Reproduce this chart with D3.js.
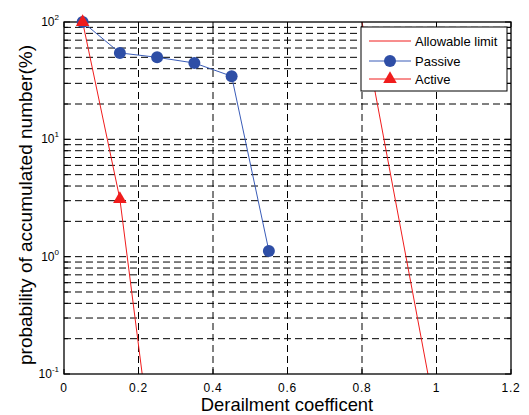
<!DOCTYPE html>
<html><head><meta charset="utf-8">
<script src="https://cdn.jsdelivr.net/npm/d3@7/dist/d3.min.js"></script>
<style>
body{margin:0;background:#fff;}
text{font-family:"Liberation Sans",Arial,Helvetica,sans-serif;}
</style></head>
<body><svg id="c" width="529" height="415"></svg>
<script>
const passiveX = [0.05, 0.15, 0.25, 0.35, 0.45, 0.55];
const passiveY = [100, 54.5, 50, 44.7, 34.5, 1.12];
const activeX = [0.05, 0.15, 0.25];
const activeY = [100, 3.1, 0.01];
const limitX = [0.8, 0.977];
const limitY = [100, 0.1];
const xTicks = [0, 0.2, 0.4, 0.6, 0.8, 1.0, 1.2];
const xTickLabels = ["0", "0.2", "0.4", "0.6", "0.8", "1", "1.2"];
const yTicks = [0.1, 1, 10, 100];
const yExponents = ["-1", "0", "1", "2"];
const legendLabels = ["Allowable limit", "Passive", "Active"];

const W = 529, H = 415;
const m = {l: 64, r: 18, t: 22, b: 41};
const svg = d3.select("#c");
const x = d3.scaleLinear().domain([0, 1.2]).range([m.l, W - m.r]);
const y = d3.scaleLog().domain([0.1, 100]).range([H - m.b, m.t]);
const x0 = m.l, x1 = W - m.r, y0 = H - m.b, y1 = m.t;

svg.append("rect").attr("x", x0).attr("y", y1).attr("width", x1 - x0).attr("height", y0 - y1).attr("fill", "#fff");

// grid
const g = svg.append("g");
const minor = [];
for (let e = -1; e < 2; e++) for (let k = 1; k <= 9; k++) minor.push(k * Math.pow(10, e));
minor.push(100);
minor.filter(v => v > 0.1 && v < 100).forEach(v => {
  g.append("line").attr("x1", x0).attr("x2", x1).attr("y1", y(v)).attr("y2", y(v))
   .attr("stroke", "#000").attr("stroke-width", 1).attr("stroke-dasharray", "7,4");
});
xTicks.filter(v => v > 0 && v < 1.2).forEach(v => {
  g.append("line").attr("x1", x(v)).attr("x2", x(v)).attr("y1", y0).attr("y2", y1)
   .attr("stroke", "#000").attr("stroke-width", 1).attr("stroke-dasharray", "7,4");
});

// clip
svg.append("clipPath").attr("id", "clip").append("rect")
  .attr("x", x0).attr("y", y1).attr("width", x1 - x0).attr("height", y0 - y1);
const plot = svg.append("g").attr("clip-path", "url(#clip)");
const line = d3.line().x(d => x(d[0])).y(d => y(d[1]));

const limitData = limitX.map((v, i) => [v, limitY[i]]);
const passData = passiveX.map((v, i) => [v, passiveY[i]]);
const actData = activeX.map((v, i) => [v, activeY[i]]);

const red = "#f01c1c", blue = "#2e4ea6", blueLine = "#3a5cb8";

plot.append("path").attr("d", line(limitData)).attr("fill", "none").attr("stroke", red).attr("stroke-width", 1);
plot.append("path").attr("d", line(passData)).attr("fill", "none").attr("stroke", blueLine).attr("stroke-width", 1);
plot.append("path").attr("d", line(actData)).attr("fill", "none").attr("stroke", red).attr("stroke-width", 1);

// axes frame
svg.append("rect").attr("x", x0).attr("y", y1).attr("width", x1 - x0).attr("height", y0 - y1)
  .attr("fill", "none").attr("stroke", "#000").attr("stroke-width", 1.3);

// markers (not clipped)
svg.selectAll(".pm").data(passData.filter(d => d[1] >= 0.1)).enter().append("circle")
  .attr("cx", d => x(d[0])).attr("cy", d => y(d[1])).attr("r", 6).attr("fill", blue);
const tri = d3.symbol().type(d3.symbolTriangle).size(80);
svg.selectAll(".am").data(actData.filter(d => d[1] >= 0.1)).enter().append("path")
  .attr("d", tri).attr("transform", d => `translate(${x(d[0])},${y(d[1])})`).attr("fill", red);

// ticks
const tk = svg.append("g").attr("stroke", "#000").attr("stroke-width", 1);
xTicks.forEach(v => {
  tk.append("line").attr("x1", x(v)).attr("x2", x(v)).attr("y1", y0).attr("y2", y0 - 5);
  tk.append("line").attr("x1", x(v)).attr("x2", x(v)).attr("y1", y1).attr("y2", y1 + 5);
});
minor.forEach(v => {
  const L = yTicks.includes(v) ? 6 : 4;
  tk.append("line").attr("x1", x0).attr("x2", x0 + L).attr("y1", y(v)).attr("y2", y(v));
  tk.append("line").attr("x1", x1).attr("x2", x1 - L).attr("y1", y(v)).attr("y2", y(v));
});

// tick labels
xTicks.forEach((v, i) => {
  svg.append("text").attr("x", x(v)).attr("y", y0 + 18).attr("text-anchor", "middle")
    .attr("font-size", 12).attr("letter-spacing", "0.8px").text(xTickLabels[i]);
});
yTicks.forEach((v, i) => {
  const t = svg.append("text").attr("x", x0 - 5).attr("y", y(v) + 4).attr("text-anchor", "end").attr("font-size", 12);
  t.append("tspan").text("10");
  t.append("tspan").attr("font-size", 8).attr("dy", -6).text(yExponents[i]);
});

// axis titles
svg.append("text").attr("x", 287).attr("y", 411).attr("text-anchor", "middle")
  .attr("font-size", 18.4).text("Derailment coefficent");
svg.append("text").attr("transform", `translate(32,205) rotate(-90)`).attr("text-anchor", "middle")
  .attr("font-size", 19).text("probability of accumulated number(%)");

// legend
const lg = svg.append("g");
lg.append("rect").attr("x", 361).attr("y", 27).attr("width", 146).attr("height", 64)
  .attr("fill", "#fff").attr("stroke", "#000").attr("stroke-width", 1);
const rows = [41, 61, 79];
const lcolors = [red, blueLine, red];
legendLabels.forEach((lab, i) => {
  lg.append("line").attr("x1", 369).attr("x2", 411).attr("y1", rows[i]).attr("y2", rows[i])
    .attr("stroke", lcolors[i]).attr("stroke-width", 1);
  lg.append("text").attr("x", 415).attr("y", rows[i] + 5).attr("font-size", 13).text(lab);
});
lg.append("circle").attr("cx", 390).attr("cy", rows[1]).attr("r", 6).attr("fill", blue);
lg.append("path").attr("d", tri).attr("transform", `translate(390,${rows[2]})`).attr("fill", red);
</script></body></html>
